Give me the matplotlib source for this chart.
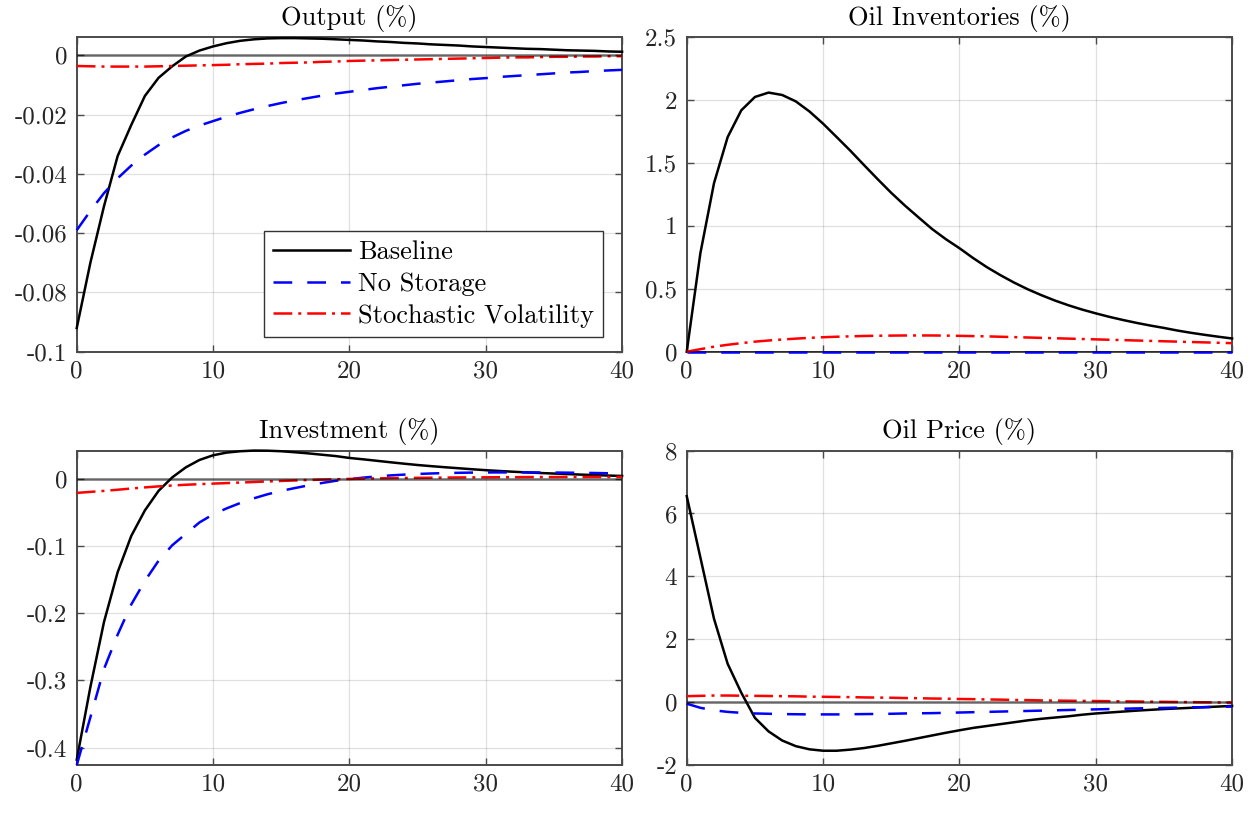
import numpy as np
import matplotlib
matplotlib.use("Agg")
import matplotlib.pyplot as plt
from matplotlib.ticker import FuncFormatter

# --- Data: impulse responses over 40 quarters ---
horizon = np.arange(41)

output_baseline = [
    -0.0920, -0.0700, -0.0509, -0.0340, -0.0235, -0.0137, -0.0076, -0.0037, -0.0004, 0.0016,
    0.0030, 0.0041, 0.0049, 0.0054, 0.0057, 0.0058, 0.0058, 0.0057, 0.0056, 0.0054,
    0.0052, 0.0050, 0.0047, 0.0045, 0.0042, 0.0040, 0.0037, 0.0035, 0.0033, 0.0030,
    0.0028, 0.0026, 0.0024, 0.0022, 0.0021, 0.0019, 0.0017, 0.0016, 0.0015, 0.0013,
    0.0012]
output_no_storage = [
    -0.0590, -0.0525, -0.0465, -0.0415, -0.0372, -0.0335, -0.0303, -0.0277, -0.0255, -0.0237,
    -0.0222, -0.0207, -0.0194, -0.0182, -0.0171, -0.0161, -0.0152, -0.0144, -0.0136, -0.0129,
    -0.0123, -0.0117, -0.0111, -0.0106, -0.0101, -0.0096, -0.0092, -0.0088, -0.0084, -0.0080,
    -0.0077, -0.0073, -0.0070, -0.0067, -0.0064, -0.0061, -0.0058, -0.0056, -0.0053, -0.0051,
    -0.0049]
output_stoch_vol = [
    -0.0036, -0.0037, -0.0038, -0.0038, -0.0038, -0.0038, -0.0037, -0.0036, -0.0035, -0.0034,
    -0.0033, -0.0032, -0.0030, -0.0029, -0.0028, -0.0026, -0.0025, -0.0024, -0.0022, -0.0021,
    -0.0019, -0.0018, -0.0017, -0.0016, -0.0015, -0.0014, -0.0013, -0.0012, -0.0011, -0.0010,
    -0.0009, -0.0008, -0.0007, -0.0007, -0.0006, -0.0005, -0.0005, -0.0004, -0.0004, -0.0003,
    -0.0003]

inventories_baseline = [
    0.000, 0.783, 1.340, 1.706, 1.919, 2.025, 2.060, 2.041, 1.990, 1.910,
    1.813, 1.706, 1.598, 1.484, 1.372, 1.263, 1.162, 1.068, 0.975, 0.895,
    0.823, 0.745, 0.673, 0.609, 0.550, 0.497, 0.450, 0.407, 0.369, 0.335,
    0.305, 0.277, 0.252, 0.229, 0.208, 0.189, 0.168, 0.150, 0.134, 0.119,
    0.105]
inventories_no_storage = [0.0] * 41
inventories_stoch_vol = [
    0.000, 0.020, 0.040, 0.055, 0.068, 0.080, 0.089, 0.097, 0.104, 0.110,
    0.115, 0.119, 0.122, 0.125, 0.127, 0.128, 0.129, 0.129, 0.129, 0.128,
    0.126, 0.124, 0.122, 0.119, 0.116, 0.113, 0.110, 0.107, 0.104, 0.101,
    0.098, 0.095, 0.092, 0.089, 0.086, 0.083, 0.080, 0.077, 0.074, 0.071,
    0.068]

investment_baseline = [
    -0.418, -0.310, -0.213, -0.139, -0.085, -0.047, -0.018, 0.002, 0.017, 0.028,
    0.035, 0.039, 0.041, 0.042, 0.0418, 0.041, 0.0395, 0.0378, 0.0358, 0.0338,
    0.0310, 0.0290, 0.0268, 0.0246, 0.0225, 0.0205, 0.0188, 0.0172, 0.0157, 0.0142,
    0.0128, 0.0116, 0.0105, 0.0095, 0.0086, 0.0078, 0.0070, 0.0062, 0.0055, 0.0048,
    0.0042]
investment_no_storage = [
    -0.426, -0.355, -0.283, -0.232, -0.187, -0.152, -0.122, -0.099, -0.082, -0.065,
    -0.053, -0.044, -0.036, -0.029, -0.023, -0.018, -0.0138, -0.0098, -0.0062, -0.0030,
    -0.0005, 0.0017, 0.0035, 0.0050, 0.0062, 0.0072, 0.0079, 0.0085, 0.0089, 0.0092,
    0.0094, 0.0095, 0.0095, 0.0095, 0.0094, 0.0093, 0.0091, 0.0089, 0.0086, 0.0082,
    0.0078]
investment_stoch_vol = [
    -0.0210, -0.0195, -0.0180, -0.0163, -0.0145, -0.0128, -0.0113, -0.0100, -0.0089, -0.0080,
    -0.0072, -0.0064, -0.0056, -0.0048, -0.0040, -0.0032, -0.0025, -0.0018, -0.0012, -0.0007,
    -0.0002, 0.0002, 0.0006, 0.0009, 0.0012, 0.0014, 0.0016, 0.0018, 0.0020, 0.0021,
    0.0022, 0.0023, 0.0024, 0.0025, 0.0026, 0.0026, 0.0027, 0.0027, 0.0028, 0.0028,
    0.0028]

price_baseline = [
    6.55, 4.60, 2.65, 1.22, 0.30, -0.50, -0.93, -1.22, -1.40, -1.50,
    -1.545, -1.545, -1.51, -1.46, -1.39, -1.31, -1.23, -1.145, -1.06, -0.975,
    -0.895, -0.82, -0.76, -0.70, -0.64, -0.58, -0.53, -0.49, -0.45, -0.40,
    -0.36, -0.33, -0.30, -0.27, -0.245, -0.22, -0.20, -0.18, -0.16, -0.14,
    -0.12]
price_no_storage = [
    -0.05, -0.18, -0.26, -0.31, -0.34, -0.36, -0.37, -0.38, -0.385, -0.39,
    -0.39, -0.39, -0.385, -0.38, -0.375, -0.37, -0.36, -0.355, -0.35, -0.34,
    -0.33, -0.32, -0.31, -0.30, -0.29, -0.28, -0.27, -0.26, -0.25, -0.24,
    -0.23, -0.22, -0.21, -0.20, -0.19, -0.185, -0.175, -0.165, -0.16, -0.15,
    -0.14]
price_stoch_vol = [
    0.19, 0.20, 0.21, 0.21, 0.205, 0.20, 0.195, 0.19, 0.185, 0.175,
    0.17, 0.165, 0.16, 0.15, 0.145, 0.14, 0.13, 0.125, 0.115, 0.11,
    0.10, 0.095, 0.085, 0.08, 0.07, 0.065, 0.055, 0.05, 0.045, 0.04,
    0.035, 0.03, 0.025, 0.02, 0.015, 0.01, 0.005, 0.0, -0.005, -0.01,
    -0.015]

series_labels = ["Baseline", "No Storage", "Stochastic Volatility"]

# --- Style (MATLAB-like look) ---
plt.rcParams['font.family'] = ['cmr10', 'DejaVu Serif']
plt.rcParams['font.size'] = 18
plt.rcParams['axes.unicode_minus'] = False
plt.rcParams['mathtext.fontset'] = 'cm'

spine_color = '#4a4a4a'
line_styles = [
    dict(color='black', linestyle='-'),
    dict(color='blue', linestyle=(0, (7.5, 6))),
    dict(color='red', linestyle=(0, (7.5, 2.4, 1.2, 2.4))),
]


def draw_panel(ax, title, series, ylim, yticks):
    """One impulse-response panel with the three model variants."""
    for values, style, label in zip(series, line_styles, series_labels):
        ax.plot(horizon, values, lw=1.8, label=label, zorder=2, clip_on=False, **style)

    # zero line drawn on top, semi-transparent
    ax.axhline(0, color='black', alpha=0.55, lw=1.8, zorder=3)

    ax.set_xlim(0, 40)
    ax.set_ylim(*ylim)
    ax.set_xticks([0, 10, 20, 30, 40])
    ax.set_yticks(yticks)
    ax.yaxis.set_major_formatter(FuncFormatter(lambda v, p: f"{v:g}"))

    ax.grid(True, color='black', alpha=0.12, lw=0.9, zorder=0)
    ax.set_axisbelow(True)
    for side in ax.spines.values():
        side.set_color(spine_color)
        side.set_linewidth(1.4)
        side.set_zorder(1.9)
    ax.tick_params(direction='in', length=5, width=1.0, color=spine_color,
                   labelcolor='#262626', top=True, right=True)
    ax.tick_params(axis='x', pad=6)
    ax.tick_params(axis='y', pad=7)
    ax.set_title(title, fontsize=19, pad=9)


fig = plt.figure(figsize=(12.58, 8.13), dpi=100)

# panel positions in figure fractions
col_left = [0.0610, 0.5459]
row_bottom = [0.5674, 0.0590]
panel_w, panel_h = 0.4335, 0.3868

ax_out = fig.add_axes([col_left[0], row_bottom[0], panel_w, panel_h])
ax_inv = fig.add_axes([col_left[1], row_bottom[0], panel_w, panel_h])
ax_i = fig.add_axes([col_left[0], row_bottom[1], panel_w, panel_h])
ax_p = fig.add_axes([col_left[1], row_bottom[1], panel_w, panel_h])

draw_panel(ax_out, "Output (%)",
           [output_baseline, output_no_storage, output_stoch_vol],
           (-0.1, 0.0061), [-0.1, -0.08, -0.06, -0.04, -0.02, 0])
draw_panel(ax_inv, "Oil Inventories (%)",
           [inventories_baseline, inventories_no_storage, inventories_stoch_vol],
           (0, 2.5), [0, 0.5, 1, 1.5, 2, 2.5])
draw_panel(ax_i, "Investment (%)",
           [investment_baseline, investment_no_storage, investment_stoch_vol],
           (-0.426, 0.042), [-0.4, -0.3, -0.2, -0.1, 0])
draw_panel(ax_p, "Oil Price (%)",
           [price_baseline, price_no_storage, price_stoch_vol],
           (-2, 8), [-2, 0, 2, 4, 6, 8])

# legend only in the output panel
handles, labels = ax_out.get_legend_handles_labels()
leg = ax_out.legend(handles, labels, loc='lower right', bbox_to_anchor=(0.965, 0.047),
                    fontsize=19, handlelength=2.9, handletextpad=0.3,
                    borderpad=0.35, labelspacing=0.3, borderaxespad=0,
                    fancybox=False, framealpha=1, edgecolor='#333333')
leg.get_frame().set_linewidth(1.0)
leg.set_zorder(5)

fig.savefig("out.png", dpi=100)
